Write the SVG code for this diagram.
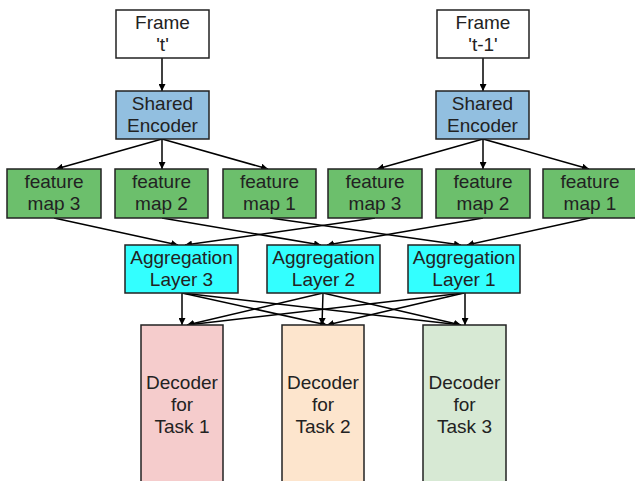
<svg xmlns="http://www.w3.org/2000/svg" width="635" height="481" viewBox="0 0 635 481">
<defs>
<marker id="ah" viewBox="0 0 10 10" refX="10" refY="5" markerWidth="7" markerHeight="7" markerUnits="userSpaceOnUse" orient="auto">
<path d="M0,0 L10,5 L0,10 z" fill="#000"/>
</marker>
</defs>
<style>
rect{stroke:#222;stroke-width:1.5}
text{font-family:"Liberation Sans",Arial,sans-serif;font-size:19px;fill:#222;text-anchor:middle}
.frame{fill:#fff}
.enc{fill:#92bfe0}
.fm{fill:#6cbf6c}
.agg{fill:#33ffff}
.d1{fill:#f5cccc}
.d2{fill:#fde5cd}
.d3{fill:#d7e9d4}
#connectors line{stroke:#000;stroke-width:1.5;marker-end:url(#ah)}
</style>
<rect width="635" height="481" fill="#fff" style="stroke:none"/>
<g id="connectors">
<line x1="162" y1="58" x2="162" y2="91"/>
<line x1="483" y1="58" x2="483" y2="91"/>
<line x1="162" y1="139" x2="56" y2="169"/>
<line x1="162" y1="139" x2="162" y2="169"/>
<line x1="162" y1="139" x2="268" y2="169"/>
<line x1="483" y1="139" x2="377" y2="169"/>
<line x1="483" y1="139" x2="483" y2="169"/>
<line x1="483" y1="139" x2="589" y2="169"/>
<line x1="54" y1="218" x2="178" y2="245"/>
<line x1="375" y1="218" x2="185" y2="245"/>
<line x1="162" y1="218" x2="321" y2="245"/>
<line x1="483" y1="218" x2="327" y2="245"/>
<line x1="270" y1="218" x2="461" y2="245"/>
<line x1="590" y1="218" x2="467" y2="245"/>
<line x1="182" y1="293" x2="182" y2="325"/>
<line x1="182" y1="293" x2="327" y2="325"/>
<line x1="182" y1="293" x2="461" y2="325"/>
<line x1="323" y1="293" x2="187" y2="325"/>
<line x1="323" y1="293" x2="322" y2="325"/>
<line x1="323" y1="293" x2="461" y2="325"/>
<line x1="464" y1="293" x2="187" y2="325"/>
<line x1="464" y1="293" x2="327" y2="325"/>
<line x1="465" y1="293" x2="465" y2="325"/>
</g>
<g id="frame-t"><rect class="frame" x="116" y="10" width="93" height="48"/><text x="162.5" y="29">Frame</text><text x="162.5" y="51">'t'</text></g>
<g id="frame-t1"><rect class="frame" x="437" y="10" width="92" height="48"/><text x="483" y="29">Frame</text><text x="483" y="51">'t-1'</text></g>
<g id="encoder-left"><rect class="enc" x="116" y="91" width="93" height="48"/><text x="162.5" y="110">Shared</text><text x="162.5" y="132">Encoder</text></g>
<g id="encoder-right"><rect class="enc" x="436" y="91" width="93" height="48"/><text x="482.5" y="110">Shared</text><text x="482.5" y="132">Encoder</text></g>
<g id="fm3-left"><rect class="fm" x="7" y="169" width="94" height="49"/><text x="54" y="188">feature</text><text x="54" y="210">map 3</text></g>
<g id="fm2-left"><rect class="fm" x="115" y="169" width="93" height="49"/><text x="161.5" y="188">feature</text><text x="161.5" y="210">map 2</text></g>
<g id="fm1-left"><rect class="fm" x="223" y="169" width="93" height="49"/><text x="269.5" y="188">feature</text><text x="269.5" y="210">map 1</text></g>
<g id="fm3-right"><rect class="fm" x="328" y="169" width="94" height="49"/><text x="375" y="188">feature</text><text x="375" y="210">map 3</text></g>
<g id="fm2-right"><rect class="fm" x="436" y="169" width="94" height="49"/><text x="483" y="188">feature</text><text x="483" y="210">map 2</text></g>
<g id="fm1-right"><rect class="fm" x="543" y="169" width="94" height="49"/><text x="590" y="188">feature</text><text x="590" y="210">map 1</text></g>
<g id="agg3"><rect class="agg" x="125" y="245" width="113" height="48"/><text x="181.5" y="264">Aggregation</text><text x="181.5" y="286">Layer 3</text></g>
<g id="agg2"><rect class="agg" x="267" y="245" width="113" height="48"/><text x="323.5" y="264">Aggregation</text><text x="323.5" y="286">Layer 2</text></g>
<g id="agg1"><rect class="agg" x="408" y="245" width="112" height="48"/><text x="464" y="264">Aggregation</text><text x="464" y="286">Layer 1</text></g>
<g id="dec1"><rect class="d1" x="141" y="325" width="82" height="162"/><text x="182" y="389">Decoder</text><text x="182" y="411">for</text><text x="182" y="433">Task 1</text></g>
<g id="dec2"><rect class="d2" x="282" y="325" width="82" height="162"/><text x="323" y="389">Decoder</text><text x="323" y="411">for</text><text x="323" y="433">Task 2</text></g>
<g id="dec3"><rect class="d3" x="423" y="325" width="83" height="162"/><text x="464.5" y="389">Decoder</text><text x="464.5" y="411">for</text><text x="464.5" y="433">Task 3</text></g>
</svg>
